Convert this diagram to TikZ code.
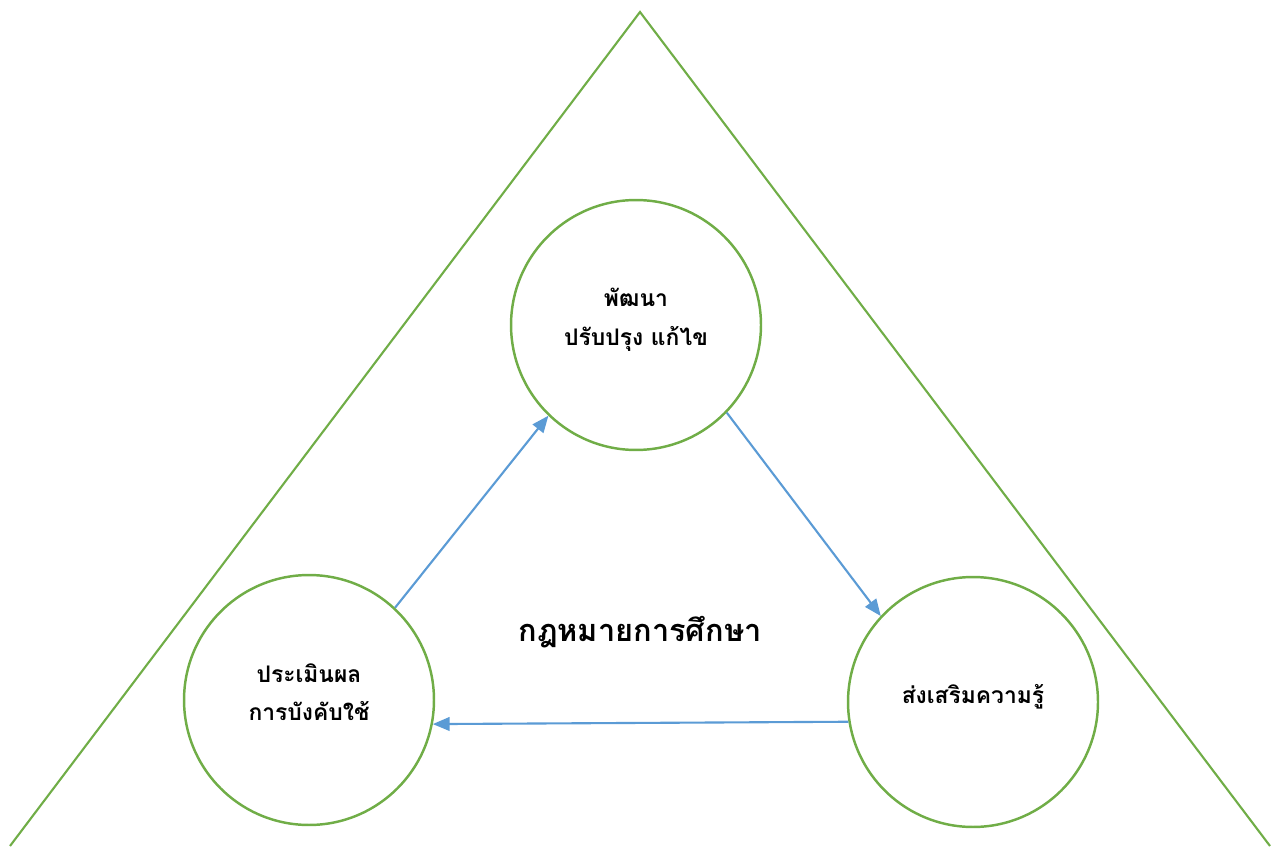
\documentclass[tikz,border=0pt]{standalone}
\usepackage{fontspec}
\newfontfamily\thaifont[Script=Thai]{Loma}
\usetikzlibrary{arrows}
\usepackage{xcolor}

\begin{document}
\begin{tikzpicture}[x=0.02cm, y=0.02cm]
      \definecolor{clrg}{RGB}{112,173,71}
      \definecolor{clrb}{RGB}{91,155,213}
      \tikzset{stage/.style={circle, draw=clrg, line width=1.4pt, minimum size=5cm, inner sep=0pt, align=center, text depth=9pt, font=\thaifont\bfseries\fontsize{13}{22}\selectfont},
               flow/.style={-triangle 45, draw=clrb, line width=1.2pt}}
      \useasboundingbox (0, 0) rectangle (1283, 846);
      \begin{scope}
        \clip (0, 0) rectangle (1283, 846);
        \draw[clrg, line width=1.2pt] (10, 0) -- (640, 834) -- (1270, 0);
      \end{scope}

      \node[stage] (dev) at (636, 521) {พัฒนา\\ปรับปรุง แก้ไข};
      \node[stage] (eval) at (309, 146) {ประเมินผล\\การบังคับใช้};
      \node[stage] (prom) at (973, 144) {ส่งเสริมความรู้};

      \node[font=\thaifont\bfseries\fontsize{17.5}{22}\selectfont] (law) at (640, 214) {กฎหมายการศึกษา};

      \draw[flow] (eval.47) -- (dev.226);
      \draw[flow] (dev.316) -- (prom.137);
      \draw[flow] (prom.189) -- (eval.349);
    \end{tikzpicture}
\end{document}
